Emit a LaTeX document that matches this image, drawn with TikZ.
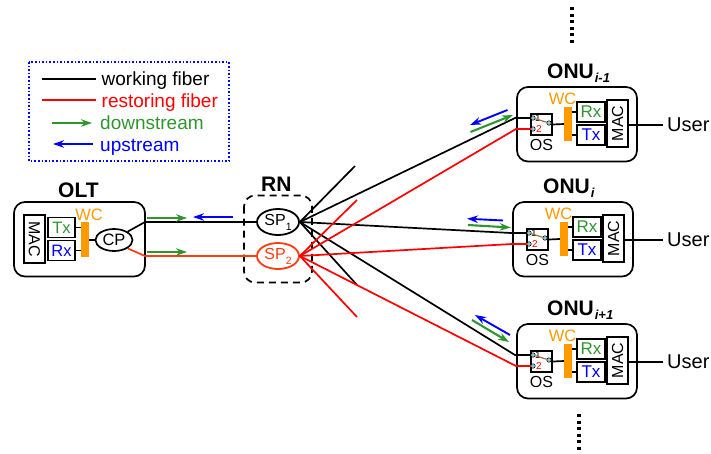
\documentclass[tikz,border=0pt]{standalone}
\usepackage{fontspec}
\setmainfont{Liberation Sans}
\usetikzlibrary{arrows.meta,shapes.geometric}
\definecolor{dgreen}{HTML}{2F962F}
\definecolor{wcor}{HTML}{FF9900}
\definecolor{spred}{HTML}{FF3B10}
\definecolor{swbrown}{HTML}{A5703A}
\definecolor{termc}{HTML}{8FC8D0}
\newcommand{\fs}[1]{\fontsize{#1}{#1}\selectfont}
\tikzset{
  fiber/.style={line width=1.7pt,line join=round},
  wfiber/.style={fiber,black},
  rfiber/.style={fiber,red},
  wire/.style={line width=1.7pt,black},
  downarrow/.style={line width=2.1pt,dgreen,-{Stealth[length=11pt,width=7.5pt]}},
  uparrow/.style={line width=1.9pt,blue,-{Stealth[length=11pt,width=7.5pt]}},
  outerbox/.style={draw,line width=1.7pt,rounded corners=11pt,inner sep=0},
  blk/.style={draw,line width=1.7pt,fill=white,inner sep=0,align=center},
  wcbar/.style={fill=wcor,inner sep=0},
  lbl/.style={inner sep=0,anchor=base},
  titletxt/.style={inner sep=0,anchor=base west,font=\fs{21}\bfseries},
  legtxt/.style={inner sep=0,anchor=base west,font=\fs{19}},
  vdots/.style={line width=3.5pt,dash pattern=on 3pt off 3.6pt},
  termdot/.style={circle,fill=termc,draw=black,line width=.5pt,inner sep=0,minimum size=4.5pt}
}
\newcommand{\onublock}[6]{%
\begin{scope}[shift={(#2,#3)}]
  \draw[outerbox] (0,0) rectangle (120,74.5);
  \node[titletxt] at (30,-8.5) (#1title) {ONU\raisebox{-4pt}{\kern1pt\fs{13}\itshape\bfseries #4}};
  \node[blk,minimum width=21pt,minimum height=21pt] (#1os) at (24.5,37.5) {};
  \node[wcbar,minimum width=8pt,minimum height=34pt] (#1wc) at (51,37) {};
  \node[blk,minimum width=28pt,minimum height=20pt,font=\fs{17},text=dgreen] (#1rx) at (74,25) {Rx};
  \node[blk,minimum width=28pt,minimum height=20pt,font=\fs{17},text=blue] (#1tx) at (74,48) {Tx};
  \node[blk,minimum width=47pt,minimum height=21pt,font=\fs{16},rotate=90] (#1mac) at (100.5,36.5) {MAC};
  \node[lbl,font=\fs{16.5},text=wcor] (#1wclabel) at (45.5,17) {WC};
  \node[lbl,font=\fs{16}] (#1oslabel) at (24.5,63) {OS};
  \coordinate (#1in) at (14,31);
  \coordinate (#1rin) at (14,42);
  \coordinate (#1bend) at (-2,31);
  \coordinate (#1rbend) at (-1,42);
  \coordinate (#1useri) at (#5,38);
  \node[inner sep=0,anchor=west,font=\fs{20}] (#1user) at (#6,38) {User};
  \node[termdot] (#1t1) at (16,31) {};
  \node[termdot] (#1t2) at (16,42) {};
  \node[termdot] (#1t3) at (32,36) {};
  \node[inner sep=0,font=\fs{10}] (#1d1) at (21,31) {1};
  \node[inner sep=0,font=\fs{10},text=red] (#1d2) at (22,42) {2};
\end{scope}
\draw[swbrown,line width=1.2pt] (#1t1) -- (#1t3);
\draw[wire] (#1os.east) -- (#1wc.west);
\draw[wire] (#1wc.east |- #1rx) -- (#1rx.west);
\draw[wire] (#1wc.east |- #1tx) -- (#1tx.west);
\draw[wire] (#1mac.south |- #1useri) -- (#1useri);
}
\begin{document}
\begin{tikzpicture}[x=1pt,y=-1pt]
\useasboundingbox (0,0) rectangle (711,453);

% legend
\draw[blue,line width=1.6pt,dotted] (29,62) rectangle (229,161);
\coordinate (l1a) at (42,79); \coordinate (l1b) at (96,79);
\coordinate (l2a) at (42,100); \coordinate (l2b) at (96,100);
\coordinate (l3a) at (52,123); \coordinate (l3b) at (92,123);
\coordinate (l4a) at (93,144); \coordinate (l4b) at (53,144);
\draw[wfiber] (l1a) -- (l1b);
\draw[rfiber] (l2a) -- (l2b);
\draw[downarrow] (l3a) -- (l3b);
\draw[uparrow] (l4a) -- (l4b);
\node[legtxt] (lt1) at (101.5,85) {working fiber};
\node[legtxt,text=red] (lt2) at (101.5,107) {restoring fiber};
\node[legtxt,text=dgreen] (lt3) at (100,129) {downstream};
\node[legtxt,text=blue] (lt4) at (100,151) {upstream};

% OLT
\draw[outerbox] (14,202) rectangle (145,276.5);
\node[titletxt] (olttitle) at (58,197) {OLT};
\node[blk,minimum width=48pt,minimum height=21pt,font=\fs{16},rotate=-90] (oltmac) at (34.5,239) {MAC};
\node[blk,minimum width=27pt,minimum height=20pt,font=\fs{16.5},text=dgreen] (olttx) at (61.5,227.5) {Tx};
\node[blk,minimum width=27pt,minimum height=20pt,font=\fs{16.5},text=blue] (oltrx) at (61.5,250.5) {Rx};
\node[wcbar,minimum width=8pt,minimum height=35pt] (oltwc) at (85,239.5) {};
\node[lbl,font=\fs{16.5},text=wcor] (oltwcl) at (89,220) {WC};
\node[draw,ellipse,line width=1.7pt,minimum width=37pt,minimum height=22pt,inner sep=0,font=\fs{16.5}] (cp) at (114,240) {CP};
\draw[wire] (olttx.east) -- (oltwc.west |- olttx);
\draw[wire] (oltrx.east) -- (oltwc.west |- oltrx);
\draw[wire] (oltwc.east |- cp) -- (cp.west);

% RN
\draw[line width=1.7pt,dash pattern=on 7pt off 5pt,rounded corners=11pt] (244,195.5) rectangle (312,282.5);
\node[titletxt] (rntitle) at (261,191) {RN};
\node[draw,ellipse,line width=1.8pt,minimum width=42pt,minimum height=26pt,inner sep=0,fill=white,font=\fs{16}] (sp1) at (278,222) {SP\raisebox{-5pt}{\fs{10.5}1}};
\node[draw=spred,text=spred,ellipse,line width=1.8pt,minimum width=42pt,minimum height=26pt,inner sep=0,fill=white,font=\fs{16}] (sp2) at (278,256) {SP\raisebox{-5pt}{\fs{10.5}2}};

% ONUs
\onublock{a}{517}{87}{i-1}{146}{150}
\onublock{b}{513}{202}{i}{150}{154}
\onublock{c}{517}{324}{i+1}{146}{150}

% OLT to splitters
\coordinate (ub) at (145,222); \coordinate (rb) at (145,256);
\draw[wfiber] (cp.north east) -- (ub) -- (sp1.west);
\draw[fiber,spred] (cp.south east) -- (rb) -- (sp2.west);

% stubs
\coordinate (s1u) at (355,166); \coordinate (s1d) at (357,285);
\coordinate (s2u) at (357,200); \coordinate (s2d) at (357,317);

% fibers
\draw[wfiber] (sp1.east) -- (s1u);
\draw[wfiber] (sp1.east) -- (s1d);
\draw[wfiber] (sp1.east) -- (abend) -- (ain);
\draw[wfiber] (sp1.east) -- (bbend) -- (bin);
\draw[wfiber] (sp1.east) -- (cbend) -- (cin);
\draw[rfiber] (sp2.east) -- (s2u);
\draw[rfiber] (sp2.east) -- (s2d);
\draw[rfiber] (sp2.east) -- (arbend) -- (arin);
\draw[rfiber] (sp2.east) -- (brbend) -- (brin);
\draw[rfiber] (sp2.east) -- (crbend) -- (crin);

% direction arrows
\coordinate (d1a) at (147,218); \coordinate (d1b) at (187,218);
\coordinate (d2a) at (233,217); \coordinate (d2b) at (193,217);
\coordinate (d3a) at (147,252); \coordinate (d3b) at (187,252);
\draw[downarrow] (d1a) -- (d1b);
\draw[uparrow] (d2a) -- (d2b);
\draw[downarrow] (d3a) -- (d3b);
\coordinate (e1a) at (507.5,110); \coordinate (e1b) at (470,125);
\coordinate (e2a) at (470.5,132); \coordinate (e2b) at (513,115);
\draw[uparrow] (e1a) -- (e1b);
\draw[downarrow] (e2a) -- (e2b);
\coordinate (f1a) at (503,220.5); \coordinate (f1b) at (467,218.7);
\coordinate (f2a) at (468,225); \coordinate (f2b) at (510.7,227.5);
\draw[uparrow] (f1a) -- (f1b);
\draw[downarrow] (f2a) -- (f2b);
\coordinate (g1a) at (510,335); \coordinate (g1b) at (475,315);
\coordinate (g2a) at (472,320); \coordinate (g2b) at (509,342);
\draw[uparrow] (g1a) -- (g1b);
\draw[downarrow] (g2a) -- (g2b);

% continuation dots
\coordinate (v1a) at (572,7); \coordinate (v1b) at (572,46);
\coordinate (v2a) at (579,414); \coordinate (v2b) at (579,453);
\draw[vdots] (v1a) -- (v1b);
\draw[vdots] (v2a) -- (v2b);
\end{tikzpicture}
\end{document}
